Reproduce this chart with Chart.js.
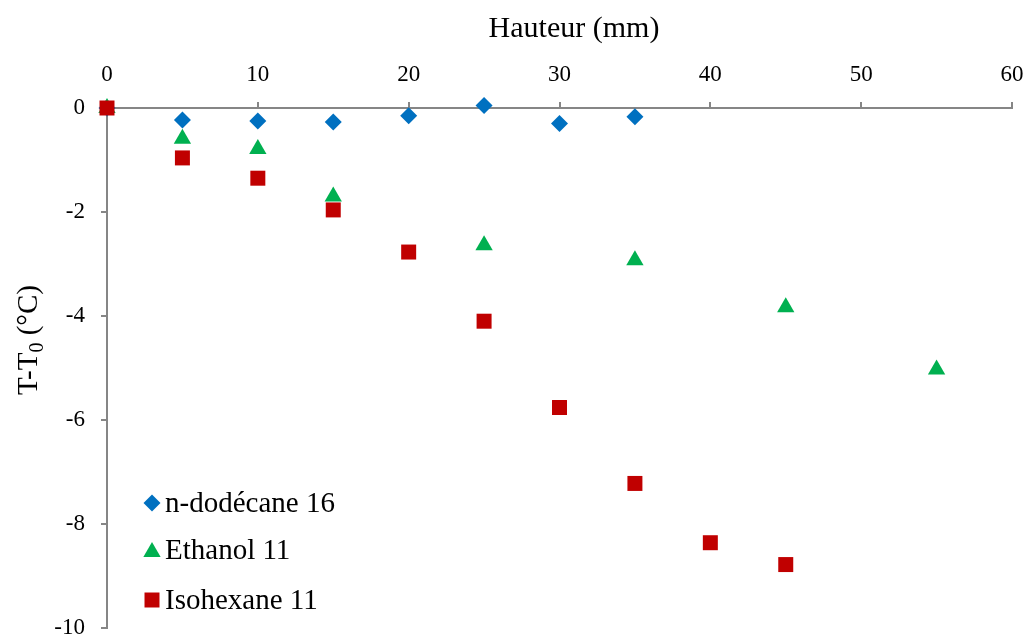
<!DOCTYPE html>
<html>
<head>
<meta charset="utf-8">
<script src="https://cdn.jsdelivr.net/npm/chart.js@4"></script>
<style>
  html, body { margin: 0; padding: 0; background: #fff; }
  #wrap { width: 1028px; height: 640px; }
</style>
</head>
<body>
<div id="wrap"><canvas id="c" width="1028" height="640"></canvas></div>
<script>
const dodecaneX = [0, 5, 10, 15, 20, 25, 30, 35];
const dodecaneY = [0, -0.23, -0.25, -0.27, -0.15, 0.05, -0.30, -0.17];
const ethanolX = [0, 5, 10, 15, 25, 35, 45, 55];
const ethanolY = [0, -0.59, -0.79, -1.70, -2.64, -2.93, -3.83, -5.03];
const isohexaneX = [0, 5, 10, 15, 20, 25, 30, 35, 40, 45];
const isohexaneY = [0, -0.96, -1.35, -1.96, -2.77, -4.10, -5.76, -7.22, -8.36, -8.78];
const seriesNames = ['n-dodécane 16', 'Ethanol 11', 'Isohexane 11'];
const xTitle = 'Hauteur (mm)';

const toPts = (xs, ys) => xs.map((x, i) => ({x: x, y: ys[i]}));
const FONT = '"Liberation Serif", "Times New Roman", serif';

const legendPlugin = {
  id: 'customLegend',
  afterDraw(chart) {
    const ctx = chart.ctx;
    // X title
    ctx.save();
    ctx.fillStyle = '#000';
    ctx.font = '30px ' + FONT;
    ctx.textAlign = 'center';
    ctx.textBaseline = 'middle';
    ctx.fillText(xTitle, 574, 29);
    ctx.restore();

    ctx.save();
    // Y title with subscript
    ctx.translate(27, 340);
    ctx.rotate(-Math.PI / 2);
    ctx.fillStyle = '#000';
    ctx.textBaseline = 'alphabetic';
    const big = '29px ' + FONT, small = '20px ' + FONT;
    ctx.font = big; const w1 = ctx.measureText('T-T').width;
    ctx.font = small; const w2 = ctx.measureText('0').width;
    ctx.font = big; const w3 = ctx.measureText(' (°C)').width;
    let x0 = -(w1 + w2 + w3) / 2;
    ctx.font = big; ctx.fillText('T-T', x0, 10);
    ctx.font = small; ctx.fillText('0', x0 + w1, 16);
    ctx.font = big; ctx.fillText(' (°C)', x0 + w1 + w2, 10);
    ctx.restore();

    // legend (in series name order)
    ctx.save();
    const rows = [503, 550, 600];
    seriesNames.forEach((name, i) => {
      const ds = chart.data.datasets.find(d => d.label === name);
      const y = rows[i];
      ctx.fillStyle = ds.backgroundColor;
      ctx.strokeStyle = ds.backgroundColor;
      ctx.lineWidth = 0.01;
      Chart.helpers.drawPoint(ctx, {pointStyle: ds.pointStyle, rotation: 0, borderWidth: 0, radius: ds.pointRadius},
        152, ds.pointStyle === 'triangle' ? y + 2 : y);
      ctx.fillStyle = '#000';
      ctx.font = '29px ' + FONT;
      ctx.textBaseline = 'middle';
      ctx.textAlign = 'left';
      ctx.fillText(name, 165, y + 1);
    });
    ctx.restore();
  }
};

new Chart(document.getElementById('c'), {
  type: 'scatter',
  data: {
    datasets: [
      { label: seriesNames[2], data: toPts(isohexaneX, isohexaneY), pointStyle: 'rect', pointRadius: 10.6,
        backgroundColor: '#C00000', borderColor: '#C00000', borderWidth: 0, clip: false },
      { label: seriesNames[1], data: toPts(ethanolX, ethanolY), pointStyle: 'triangle', pointRadius: 10,
        backgroundColor: '#00B050', borderColor: '#00B050', borderWidth: 0, clip: false },
      { label: seriesNames[0], data: toPts(dodecaneX, dodecaneY), pointStyle: 'rectRot', pointRadius: 8.5,
        backgroundColor: '#0070C0', borderColor: '#0070C0', borderWidth: 0, clip: false }
    ]
  },
  options: {
    responsive: false,
    devicePixelRatio: 1,
    animation: false,
    layout: { padding: { top: 0, right: 16, bottom: 12, left: 0 } },
    plugins: { legend: { display: false }, tooltip: { enabled: false } },
    elements: { point: { hoverRadius: 10 } },
    scales: {
      x: {
        type: 'linear', position: 'top', min: 0, max: 60,
        ticks: { stepSize: 10, color: '#000', font: { family: FONT, size: 23 }, padding: 13 },
        grid: { drawOnChartArea: false, drawTicks: true, tickLength: 6, color: '#868686', lineWidth: 2 },
        border: { color: '#868686', width: 2 },
        title: { display: false },
        afterFit(s) { s.height = 108; s.paddingLeft = 0; s.paddingRight = 0; }
      },
      y: {
        type: 'linear', min: -10, max: 0,
        ticks: { stepSize: 2, color: '#000', font: { family: FONT, size: 23 }, padding: 16 },
        grid: { drawOnChartArea: false, drawTicks: true, tickLength: 6, color: '#868686', lineWidth: 2 },
        border: { color: '#868686', width: 2 },
        afterFit(s) { s.width = 107; s.paddingTop = 0; s.paddingBottom = 0; }
      }
    }
  },
  plugins: [legendPlugin]
});
</script>
</body>
</html>
